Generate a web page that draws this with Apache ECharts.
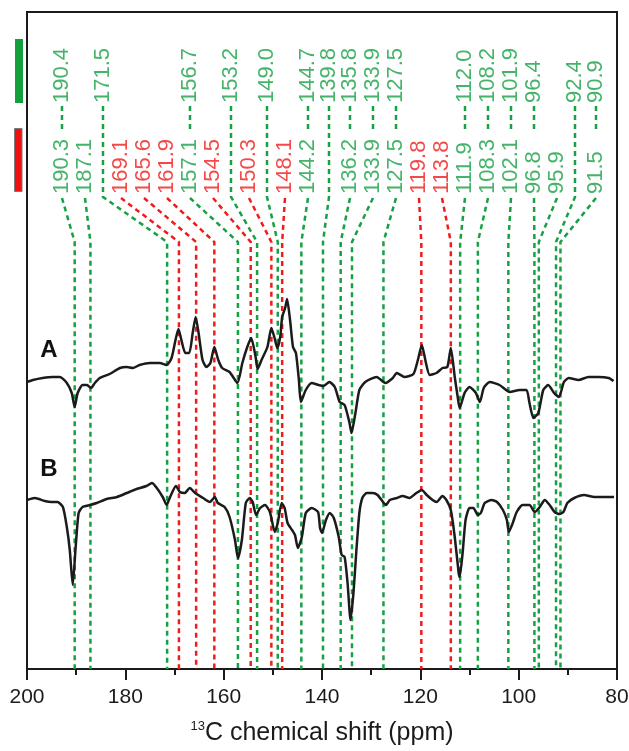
<!DOCTYPE html>
<html>
<head>
<meta charset="utf-8">
<script src="https://cdn.jsdelivr.net/npm/echarts@6/dist/echarts.min.js"></script>
<style>
  html, body { margin: 0; padding: 0; background: #ffffff; }
  #chart { width: 629px; height: 751px; }
</style>
</head>
<body>
<div id="chart"></div>
<script>
// ---- x axis (ppm) ----
const shiftMin = 80;
const shiftMax = 200;
const shiftStep = 20;

// ---- peak assignments ----
// upper row (green)
const upperShifts = [190.4, 171.5, 156.7, 153.2, 149.0, 144.7, 139.8, 135.8, 133.9, 127.5,
                     112.0, 108.2, 101.9, 96.4, 92.4, 90.9];
// lower row, green entries
const lowerGreenShifts = [190.3, 187.1, 157.1, 144.2, 136.2, 133.9, 127.5, 111.9, 108.3, 102.1,
                          96.8, 95.9, 91.5];
// lower row, red entries
const lowerRedShifts = [169.1, 165.6, 161.9, 154.5, 150.3, 148.1, 119.8, 113.8];

// ---- spectrum A ----
const specAShift = [
  200.0, 198.8, 196.8, 194.8, 193.3, 191.9, 190.9, 190.3, 189.7, 188.7,
  187.8, 187.0, 186.2, 185.2, 183.2, 181.1, 179.7, 178.5, 177.1, 175.0,
  173.0, 171.6, 170.6, 169.8, 169.2, 168.6, 167.8, 167.0, 166.3, 165.7,
  165.1, 164.3, 163.5, 162.7, 161.9, 161.1, 160.3, 158.8, 157.2, 156.2,
  155.2, 154.4, 153.5, 153.1, 152.3, 151.1, 150.3, 149.7, 149.1, 148.5,
  148.1, 147.5, 147.1, 146.5, 145.9, 145.3, 144.7, 144.3, 143.3, 142.1,
  140.7, 139.7, 138.5, 137.4, 136.4, 135.4, 134.4, 134.0, 133.2, 132.4,
  131.2, 128.9, 127.1, 125.6, 124.8, 123.2, 121.4, 120.5, 119.7, 118.9,
  118.1, 116.7, 115.5, 114.5, 113.8, 113.0, 112.4, 112.0, 111.0, 110.0,
  108.7, 107.9, 107.1, 105.9, 103.9, 101.8, 99.8, 98.4, 97.8, 97.0,
  96.0, 95.0, 94.0, 92.8, 91.8, 90.8, 89.8, 87.8, 85.8, 83.8,
  81.7, 80.7
];
const specAAmp = [
  -1, 1, 3, 4, 4, -2, -12, -26, -12, -4,
  -4, -7, -2, 3, 7, 13, 14, 13, 16, 18,
  18, 16, 23, 41, 52, 41, 28, 28, 48, 64,
  48, 21, 14, 18, 34, 21, 13, 9, -2, 18,
  34, 43, 24, 12, 21, 34, 53, 44, 33, 44,
  64, 73, 82, 61, 34, 28, 1, -21, -9, -2,
  -4, -5, -1, -6, -21, -24, -42, -52, -32, -9,
  -1, 4, -2, 3, 8, 4, 7, 21, 36, 19,
  6, 8, 13, 14, 33, 4, -16, -27, -12, -6,
  -12, -21, -7, -1, -4, -11, -9, -9, -22, -37,
  -32, -9, -4, -12, -16, -1, 3, 1, 4, 4,
  3, 0
];

// ---- spectrum B ----
const specBShift = [
  200.0, 198.4, 196.4, 195.0, 193.8, 192.7, 191.9, 191.3, 190.7, 190.1,
  189.5, 188.7, 187.2, 185.8, 183.8, 181.7, 179.7, 177.7, 175.7, 174.6,
  173.6, 172.4, 171.6, 170.9, 169.7, 168.9, 167.9, 166.9, 165.8, 164.2,
  162.8, 161.8, 161.2, 159.8, 158.8, 157.7, 157.1, 156.3, 155.5, 154.7,
  154.1, 153.4, 152.6, 151.6, 150.6, 149.6, 149.0, 148.2, 147.6, 147.0,
  146.1, 145.5, 144.9, 144.1, 143.3, 142.1, 140.8, 140.4, 140.0, 139.2,
  138.4, 137.6, 136.6, 136.0, 135.4, 134.8, 134.2, 133.6, 133.0, 132.4,
  131.8, 130.9, 129.7, 128.7, 127.6, 127.0, 126.2, 124.8, 123.6, 122.2,
  120.8, 119.7, 118.7, 117.5, 116.7, 115.5, 114.7, 113.8, 113.0, 112.2,
  112.0, 111.4, 110.8, 110.0, 109.2, 108.3, 107.7, 106.9, 105.5, 104.4,
  103.2, 102.4, 102.0, 101.2, 100.4, 99.2, 97.8, 96.7, 95.7, 94.7,
  93.7, 92.7, 91.7, 90.9, 90.1, 88.7, 86.7, 84.6, 82.6, 80.6
];
const specBAmp = [
  0, 2, -1, -2, -2, -7, -27, -50, -85, -47,
  -13, -7, -5, -3, 1, 3, 7, 11, 14, 17,
  12, 3, -5, 3, 14, 8, 7, 12, 7, 2,
  -2, 3, -3, -7, -17, -40, -58, -40, -3, 2,
  -2, -15, -8, -5, -12, -32, -23, -3, -8, -23,
  -30, -35, -48, -37, -13, -8, -12, -28, -33, -20,
  -13, -18, -37, -55, -57, -83, -120, -93, -50, -13,
  2, 7, 7, 5, -2, -5, 0, 2, 4, 2,
  7, 10, 5, 0, -2, 4, 0, -10, -37, -73,
  -77, -53, -20, -8, -8, -15, -13, -3, 0, -2,
  -10, -20, -32, -23, -12, -5, -5, -12, -7, 0,
  -5, -12, -14, -12, -3, 2, 5, 3, 3, 3
];

// ---- styling ----
const FONT = '"Liberation Sans", Arial, Helvetica, sans-serif';
const INK = '#1b1b1b';
const GREEN = '#17a044';
const RED = '#f01c1c';
const OFFSET_A = 288;   // vertical stacking of the two traces
const OFFSET_B = 169;
const Y_TOP = 657;

const chart = echarts.init(document.getElementById('chart'));

function trace(shift, amp, offset) {
  return shift.map((s, i) => [s, amp[i] + offset]);
}

chart.setOption({
  animation: false,
  backgroundColor: '#ffffff',
  grid: {
    left: 27, right: 12, top: 12, bottom: 82,
    show: true, borderColor: INK, borderWidth: 2,
    containLabel: false, outerBoundsMode: 'none'
  },
  xAxis: {
    type: 'value', min: shiftMin, max: shiftMax, interval: shiftStep, inverse: true,
    axisLine: { show: true, onZero: false, lineStyle: { color: INK, width: 2 } },
    axisTick: { show: true, inside: false, length: 11, lineStyle: { color: INK, width: 2 } },
    minorTick: { show: true, splitNumber: 2, length: 6, lineStyle: { color: INK, width: 2 } },
    splitLine: { show: false },
    minorSplitLine: { show: false },
    axisLabel: { show: true, color: INK, fontSize: 21, fontFamily: FONT, margin: 18,
                 showMinLabel: true, showMaxLabel: true, hideOverlap: false },
    name: '{s|13}{t|C chemical shift (ppm)}',
    nameLocation: 'middle',
    nameGap: 51,
    nameTextStyle: {
      rich: {
        s: { fontSize: 13, fontFamily: FONT, color: INK, verticalAlign: 'top', lineHeight: 27 },
        t: { fontSize: 25, fontFamily: FONT, color: INK, lineHeight: 27 }
      }
    }
  },
  yAxis: { type: 'value', min: 0, max: Y_TOP, show: false },
  series: [
    { name: 'A', type: 'line', data: trace(specAShift, specAAmp, OFFSET_A), showSymbol: false,
      smooth: 0.2, z: 4, lineStyle: { color: INK, width: 2.5 }, silent: true },
    { name: 'B', type: 'line', data: trace(specBShift, specBAmp, OFFSET_B), showSymbol: false,
      smooth: 0.2, z: 4, lineStyle: { color: INK, width: 2.5 }, silent: true }
  ]
});

// ---- assignment label layout ----
const px = v => chart.convertToPixel({ xAxisIndex: 0 }, v);
const shiftAt = x => chart.convertFromPixel({ xAxisIndex: 0 }, x);
const yAt = py => chart.convertFromPixel({ yAxisIndex: 0 }, py);

// group an upper entry with the nearest lower entry of (almost) the same shift
const lowerEntries = lowerGreenShifts.map(v => ({ v, color: GREEN }))
  .concat(lowerRedShifts.map(v => ({ v, color: RED })));
const candidates = [];
upperShifts.forEach((u, i) => lowerEntries.forEach((l, j) => {
  const d = Math.abs(u - l.v);
  if (d <= 0.7) candidates.push({ i, j, d });
}));
candidates.sort((a, b) => a.d - b.d);
const upUsed = {}, lowUsed = {};
const cols = [];
candidates.forEach(c => {
  if (upUsed[c.i] || lowUsed[c.j]) return;
  upUsed[c.i] = lowUsed[c.j] = true;
  cols.push({ top: upperShifts[c.i], low: lowerEntries[c.j] });
});
upperShifts.forEach((u, i) => { if (!upUsed[i]) cols.push({ top: u, low: null }); });
lowerEntries.forEach((l, j) => { if (!lowUsed[j]) cols.push({ top: null, low: l }); });
cols.forEach(c => { c.shift = c.low ? c.low.v : c.top; c.ideal = px(c.shift); });
cols.sort((a, b) => a.ideal - b.ideal);

const GAP_LABEL = 23, GAP_LINE = 18, GAP_TOP = 21, EDGE = 21;
const minX = px(shiftMax) + EDGE;
const maxX = px(shiftMin) - EDGE;

function gap(a, b) {
  if (a.low && b.low) return GAP_LABEL;
  if (a.low || b.low) return GAP_LINE;
  return 10;
}
function offsets(items) {
  const off = [0];
  let lastTop = items[0].top != null ? 0 : -1;
  for (let k = 1; k < items.length; k++) {
    let o = off[k - 1] + gap(items[k - 1], items[k]);
    if (items[k].top != null && lastTop >= 0) o = Math.max(o, off[lastTop] + GAP_TOP);
    off.push(o);
    if (items[k].top != null) lastTop = k;
  }
  return off;
}
function place(cl) {
  cl.off = offsets(cl.items);
  const span = cl.off[cl.off.length - 1];
  let s = 0;
  cl.items.forEach((it, k) => { s += it.ideal - cl.off[k]; });
  s /= cl.items.length;
  cl.start = Math.min(Math.max(s, minX), maxX - span);
}
function conflicts(a, b) {
  const last = a.items.length - 1;
  if (b.start + b.off[0] < a.start + a.off[last] + gap(a.items[last], b.items[0])) return true;
  let p = -1, q = -1;
  for (let k = last; k >= 0; k--) if (a.items[k].top != null) { p = k; break; }
  for (let k = 0; k < b.items.length; k++) if (b.items[k].top != null) { q = k; break; }
  return p >= 0 && q >= 0 && b.start + b.off[q] < a.start + a.off[p] + GAP_TOP;
}
const stack = [];
cols.forEach(c => {
  let cl = { items: [c] };
  place(cl);
  while (stack.length && conflicts(stack[stack.length - 1], cl)) {
    const prev = stack.pop();
    cl = { items: prev.items.concat(cl.items) };
    place(cl);
  }
  stack.push(cl);
});
stack.forEach(cl => cl.items.forEach((it, k) => { it.x = cl.start + cl.off[k]; }));

// ---- leader lines and labels ----
const TOP_BASE = 103, TOP_LEAD0 = 106, TOP_LEAD1 = 131;
const LOW_BASE = 194, BEND0 = 198, BEND1 = 242;
const leaders = [];
const topLabels = [];
const lowLabels = [];
cols.forEach(c => {
  const xl = shiftAt(c.x);
  const xt = c.shift;
  if (c.top != null) {
    topLabels.push({ value: [xl, yAt(TOP_BASE)], text: c.top.toFixed(1) });
  }
  if (c.low) {
    lowLabels.push({ value: [xl, yAt(LOW_BASE)], text: c.low.v.toFixed(1),
                     label: { color: c.low.color } });
  }
  if (c.top != null && c.low) {
    leaders.push({ coords: [[xl, yAt(TOP_LEAD0)], [xl, yAt(TOP_LEAD1)]], lineStyle: { color: GREEN } });
    leaders.push({ coords: [[xl, yAt(BEND0)], [xt, yAt(BEND1)], [xt, 0]], lineStyle: { color: c.low.color } });
  } else if (c.top != null) {
    leaders.push({ coords: [[xl, yAt(TOP_LEAD0)], [xl, yAt(BEND0 - 1)], [xt, yAt(BEND1)], [xt, 0]],
                   lineStyle: { color: GREEN } });
  } else {
    leaders.push({ coords: [[xl, yAt(BEND0)], [xt, yAt(BEND1)], [xt, 0]], lineStyle: { color: c.low.color } });
  }
});

const labelStyle = {
  show: true, position: 'inside', rotate: 90, align: 'left', verticalAlign: 'middle',
  fontSize: 22, fontFamily: FONT, formatter: p => p.data.text
};

chart.setOption({
  series: [
    { name: 'A', type: 'line' },
    { name: 'B', type: 'line' },
    { name: 'leaders', type: 'lines', coordinateSystem: 'cartesian2d', polyline: true, silent: true,
      z: 2, data: leaders, lineStyle: { width: 2.5, type: [5, 4], opacity: 1 } },
    { name: 'upper', type: 'scatter', data: topLabels, symbolSize: 1, silent: true, z: 5,
      itemStyle: { color: 'rgba(0,0,0,0)' },
      label: Object.assign({ color: GREEN }, labelStyle) },
    { name: 'lower', type: 'scatter', data: lowLabels, symbolSize: 1, silent: true, z: 5,
      itemStyle: { color: 'rgba(0,0,0,0)' },
      label: Object.assign({ color: GREEN }, labelStyle) }
  ],
  graphic: [
    { type: 'rect', shape: { x: 15, y: 39, width: 8, height: 64 }, style: { fill: '#12a03a' }, silent: true },
    { type: 'rect', shape: { x: 14.5, y: 128.5, width: 7.5, height: 63 },
      style: { fill: '#ee1111', stroke: '#7a7a7a', lineWidth: 1 }, silent: true },
    { type: 'text', x: 49, y: 350, silent: true,
      style: { text: 'A', font: 'bold 24px ' + FONT, fill: '#111', align: 'center', verticalAlign: 'middle' } },
    { type: 'text', x: 49, y: 469, silent: true,
      style: { text: 'B', font: 'bold 24px ' + FONT, fill: '#111', align: 'center', verticalAlign: 'middle' } }
  ]
});
</script>
</body>
</html>
